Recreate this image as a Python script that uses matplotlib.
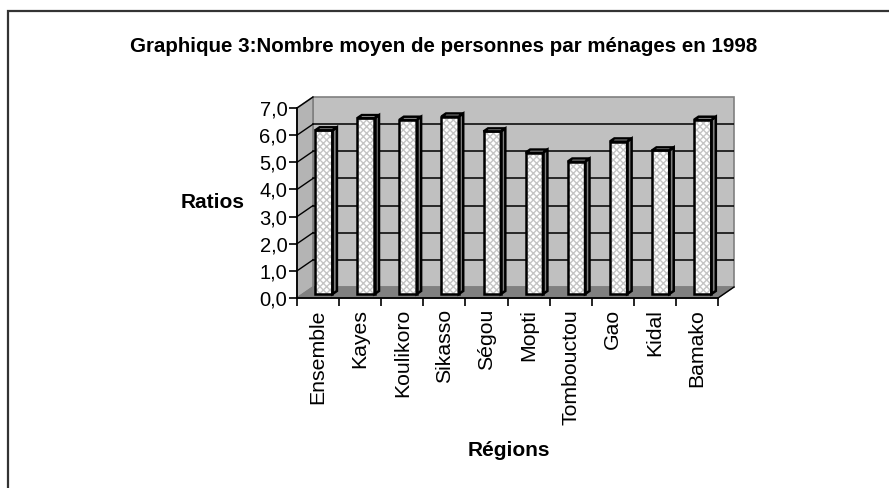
import numpy as np
import matplotlib.pyplot as plt
from matplotlib.patches import Polygon, Rectangle

# ── Data ──────────────────────────────────────────────────────────────────────
REGIONS = ["Ensemble", "Kayes", "Koulikoro", "Sikasso", "Ségou", "Mopti",
           "Tombouctou", "Gao", "Kidal", "Bamako"]
RATIOS = [6.03, 6.48, 6.42, 6.54, 5.99, 5.21, 4.88, 5.62, 5.29, 6.42]
Y_TICKS = [0, 1, 2, 3, 4, 5, 6, 7]
Y_LABELS = [f"{v:.1f}".replace(".", ",") for v in Y_TICKS]

TITLE = "Graphique 3:Nombre moyen de personnes par ménages en 1998"

# ── Layout (pixels of the 889x488 canvas) ─────────────────────────────────────
W, H = 889, 488
X0, Y0 = 297, 298          # front-left corner of the plot floor
PX_CAT = 42.1              # pixels per category
PX_UNIT = 27.14            # pixels per y unit
DX = 16 / PX_CAT           # 3-D depth offset, in data units
DY = 11 / PX_UNIT
F0, F1 = 0.36, 0.64        # bar front / back position in the depth
BW = 0.41                  # bar width (categories)
N = len(REGIONS)
YMAX = Y_TICKS[-1]

plt.rcParams["font.family"] = ["Liberation Sans", "DejaVu Sans"]

fig = plt.figure(figsize=(W / 100, H / 100), dpi=100)
ax = fig.add_axes([X0 / W, (H - Y0) / H,
                   (N + DX) * PX_CAT / W, (YMAX + DY) * PX_UNIT / H])
ax.set_xlim(0, N + DX)
ax.set_ylim(0, YMAX + DY)
ax.patch.set_visible(False)

# ── Walls ─────────────────────────────────────────────────────────────────────
back = Polygon([(DX, DY), (N + DX, DY), (N + DX, YMAX + DY), (DX, YMAX + DY)],
               closed=True, fc="#c0c0c0", ec="#808080", lw=1.2, zorder=0,
               clip_on=False)
side = Polygon([(0, 0), (DX, DY), (DX, YMAX + DY), (0, YMAX)],
               closed=True, fc="#b4b4b4", ec="#808080", lw=1.2, zorder=0,
               clip_on=False)
floor = Polygon([(0, 0), (N, 0), (N + DX, DY), (DX, DY)],
                closed=True, fc="#808080", ec="#808080", lw=1, zorder=0.5,
                clip_on=False)
for p in (back, side, floor):
    ax.add_patch(p)

# gridlines on back wall + diagonals on side wall
for k in Y_TICKS[1:-1]:
    ax.plot([DX, N + DX], [k + DY, k + DY], color="black", lw=1.1, zorder=1)
for k in Y_TICKS[1:]:
    ax.plot([0, DX], [k, k + DY], color="black", lw=1.0, zorder=1,
            clip_on=False)
ax.plot([N, N + DX], [0, DY], color="black", lw=1.0, zorder=1, clip_on=False)

# ── Bars ──────────────────────────────────────────────────────────────────────
xc = np.arange(N) + 0.5
left = xc - BW / 2 + F0 * DX
base = F0 * DY
ddx, ddy = (F1 - F0) * DX, (F1 - F0) * DY

ax.bar(left, RATIOS, width=BW, bottom=base, align="edge", facecolor="white",
       edgecolor="#c4c4c4", hatch="xxxxx", linewidth=0, zorder=3)
ax.bar(left, RATIOS, width=BW, bottom=base, align="edge", fill=False,
       edgecolor="black", linewidth=1.8, zorder=5, joinstyle="miter")

for l, v in zip(left, RATIOS):
    r = l + BW
    top = base + v
    ax.add_patch(Polygon([(r, base), (r + ddx, base + ddy),
                          (r + ddx, top + ddy), (r, top)],
                         closed=True, fc="#808080", ec="black", lw=1.8,
                         zorder=4, joinstyle="miter"))
    ax.add_patch(Polygon([(l, top), (r, top), (r + ddx, top + ddy),
                          (l + ddx, top + ddy)],
                         closed=True, fc="#e6e6e6", ec="black", lw=1.8,
                         zorder=4, joinstyle="miter"))

# ── Axes ──────────────────────────────────────────────────────────────────────
for s in ("top", "right"):
    ax.spines[s].set_visible(False)
ax.spines["left"].set_bounds(0, YMAX)
ax.spines["bottom"].set_bounds(0, N)
for s in ("left", "bottom"):
    ax.spines[s].set_linewidth(1.3)
    ax.spines[s].set_zorder(6)

ax.set_yticks(Y_TICKS)
ax.set_yticklabels(Y_LABELS)
ax.tick_params(axis="y", direction="out", length=6, width=1.2,
               labelsize=14.5, pad=1)

ax.set_xticks(np.arange(N + 1))
ax.set_xticklabels([])
ax.set_xticks(xc, minor=True)
ax.set_xticklabels(REGIONS, minor=True, rotation=90, fontsize=15.3)
ax.tick_params(axis="x", which="major", direction="out", length=6, width=1.2)
ax.tick_params(axis="x", which="minor", length=0, pad=8)

# ── Texts ─────────────────────────────────────────────────────────────────────
fig.text(444 / W, 1 - 47 / H, TITLE, ha="center", va="center",
         fontsize=14.8, fontweight="bold")
fig.text(213 / W, 1 - 203 / H, "Ratios", ha="center", va="center",
         fontsize=15, fontweight="bold")
fig.text(509 / W, 1 - 450 / H, "Régions", ha="center", va="center",
         fontsize=15, fontweight="bold")

# outer frame: only its left and top edges fall inside the picture
fig.add_artist(Rectangle((8 / W, -0.05), 1.0, 1.05 - 10.5 / H,
                         transform=fig.transFigure, fill=False,
                         lw=1.6, ec="#333333"))

fig.savefig("out.png", dpi=100)
